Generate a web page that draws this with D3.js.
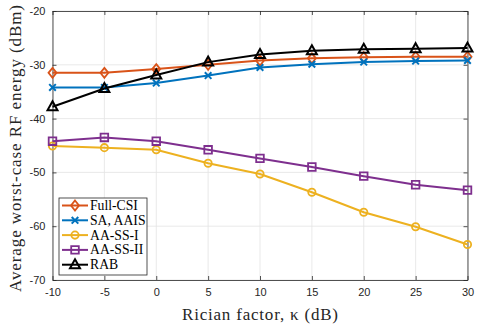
<!DOCTYPE html>
<html>
<head>
<meta charset="utf-8">
<script src="https://cdn.jsdelivr.net/npm/d3@7"></script>
<style>
  body { margin: 0; background: #fff; }
  svg { display: block; }
  .tick text { font-family: "Liberation Sans", Arial, sans-serif; font-size: 11px; fill: #262626; }
  .axis-label { font-family: "Liberation Serif", "DejaVu Serif", serif; font-size: 17px; fill: #262626; }
  .legend text { font-family: "Liberation Serif", "DejaVu Serif", serif; font-size: 13.7px; fill: #000; }
</style>
</head>
<body>
<svg id="chart" width="477" height="326"></svg>
<script>
var kappa = [-10, -5, 0, 5, 10, 15, 20, 25, 30];
var yTicks = [-70, -60, -50, -40, -30, -20];

var fullCsi = [-31.5, -31.5, -30.8, -30.0, -29.2, -28.8, -28.6, -28.5, -28.5];
var saAais = [-34.2, -34.2, -33.4, -32.0, -30.5, -29.9, -29.5, -29.3, -29.2];
var aaSs1 = [-45.1, -45.4, -45.8, -48.3, -50.3, -53.7, -57.4, -60.1, -63.4];
var aaSs2 = [-44.2, -43.5, -44.2, -45.8, -47.4, -49.0, -50.7, -52.3, -53.3];
var rab = [-37.8, -34.4, -31.9, -29.5, -28.1, -27.4, -27.1, -27.0, -26.9];

var seriesNames = ["Full-CSI", "SA, AAIS", "AA-SS-I", "AA-SS-II", "RAB"];
var seriesColors = ["#D95319", "#0072BD", "#EDB120", "#7E2F8E", "#000000"];
var seriesMarkers = ["diamond", "cross", "circle", "square", "triangle"];

var series = [fullCsi, saAais, aaSs1, aaSs2, rab].map(function (values, i) {
  return { name: seriesNames[i], color: seriesColors[i], marker: seriesMarkers[i], values: values };
});

var margin = { left: 52.5, top: 11, right: 9.5, bottom: 46 };
var width = 477, height = 326;
var svg = d3.select("#chart");

var x = d3.scaleLinear().domain([-10, 30]).range([margin.left, width - margin.right]);
var y = d3.scaleLinear().domain([-70, -20]).range([height - margin.bottom, margin.top]);
var plainFormat = function (d) { return String(d); };

// grid
var grid = svg.append("g").attr("stroke", "#e3e3e3").attr("stroke-width", 0.8);
kappa.forEach(function (k) {
  grid.append("line").attr("x1", x(k)).attr("x2", x(k)).attr("y1", y(-70)).attr("y2", y(-20));
});
yTicks.forEach(function (v) {
  grid.append("line").attr("x1", x(-10)).attr("x2", x(30)).attr("y1", y(v)).attr("y2", y(v));
});

// axes
svg.append("g").attr("transform", "translate(0," + y(-70) + ")")
  .call(d3.axisBottom(x).tickValues(kappa).tickSizeInner(-4).tickSizeOuter(0).tickPadding(8).tickFormat(plainFormat));
svg.append("g").attr("transform", "translate(" + x(-10) + ",0)")
  .call(d3.axisLeft(y).tickValues(yTicks).tickSizeInner(-4).tickSizeOuter(0).tickPadding(7).tickFormat(plainFormat));
svg.append("g").attr("transform", "translate(0," + y(-20) + ")")
  .call(d3.axisTop(x).tickValues(kappa).tickSizeInner(-4).tickSizeOuter(0).tickFormat(""));
svg.append("g").attr("transform", "translate(" + x(30) + ",0)")
  .call(d3.axisRight(y).tickValues(yTicks).tickSizeInner(-4).tickSizeOuter(0).tickFormat(""));
svg.selectAll(".domain, .tick line").attr("stroke", "#262626").attr("stroke-width", 0.8);

svg.append("text").attr("class", "axis-label")
  .attr("x", 182).attr("y", 320).attr("textLength", 156).attr("lengthAdjust", "spacing")
  .text("Rician factor, κ (dB)");
svg.append("text").attr("class", "axis-label")
  .attr("transform", "translate(21,292) rotate(-90)")
  .attr("textLength", 287).attr("lengthAdjust", "spacing")
  .text("Average worst-case RF energy (dBm)");

function drawMarker(g, type, color) {
  var m = g.append("path").attr("fill", "none").attr("stroke", color).attr("stroke-width", 1.8);
  if (type === "diamond") m.attr("d", "M0,-5L4,0L0,5L-4,0Z");
  else if (type === "cross") m.attr("d", "M-3.3,-3.3L3.3,3.3M-3.3,3.3L3.3,-3.3").attr("stroke-width", 2);
  else if (type === "circle") m.attr("d", d3.symbol(d3.symbolCircle, 42)());
  else if (type === "square") m.attr("d", "M-3.8,-3.8H3.8V3.8H-3.8Z");
  else if (type === "triangle") m.attr("d", "M0,-5.5L5,3.5L-5,3.5Z").attr("stroke-width", 2);
}

var line = d3.line().x(function (d, i) { return x(kappa[i]); }).y(function (d) { return y(d); });

var plot = svg.append("g");
series.forEach(function (s) {
  plot.append("path").attr("d", line(s.values)).attr("fill", "none")
    .attr("stroke", s.color).attr("stroke-width", 2);
  s.values.forEach(function (v, i) {
    drawMarker(plot.append("g").attr("transform", "translate(" + x(kappa[i]) + "," + y(v) + ")"), s.marker, s.color);
  });
});

// legend
var legend = svg.append("g").attr("class", "legend").attr("transform", "translate(59,198)");
legend.append("rect").attr("width", 88).attr("height", 77)
  .attr("fill", "#fff").attr("stroke", "#262626").attr("stroke-width", 0.8);
series.forEach(function (s, i) {
  var row = legend.append("g").attr("transform", "translate(0," + (7.5 + i * 14.8) + ")");
  row.append("line").attr("x1", 3).attr("x2", 29).attr("stroke", s.color).attr("stroke-width", 2);
  drawMarker(row.append("g").attr("transform", "translate(16,0)"), s.marker, s.color);
  row.append("text").attr("x", 31).attr("y", 4.5).text(s.name);
});
</script>
</body>
</html>
